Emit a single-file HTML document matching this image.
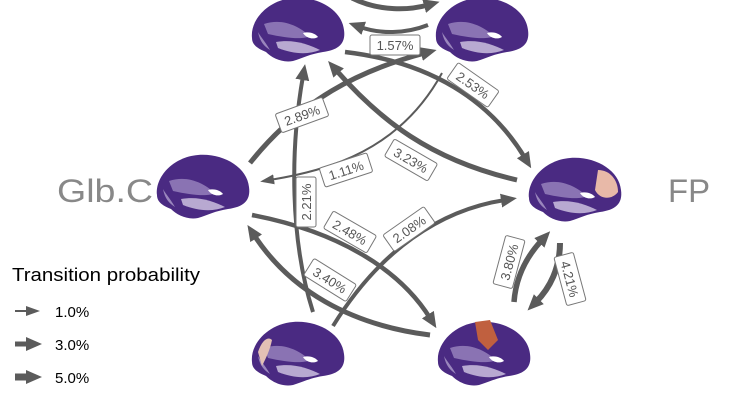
<!DOCTYPE html>
<html><head><meta charset="utf-8"><style>
html,body{margin:0;padding:0;background:#fff;width:746px;height:419px;overflow:hidden}
svg{display:block}
text{font-family:"Liberation Sans",sans-serif}
</style></head><body>
<svg width="746" height="419" viewBox="0 0 746 419" xmlns="http://www.w3.org/2000/svg">
<defs>
<marker id="ah" markerUnits="userSpaceOnUse" markerWidth="16" markerHeight="16" refX="4" refY="8" orient="auto" viewBox="0 0 16 16">
<path d="M0,1 L16,8 L0,15 Z" fill="#5b5b5b"/></marker>
<marker id="ahs" markerUnits="userSpaceOnUse" markerWidth="14" markerHeight="14" refX="4" refY="7" orient="auto" viewBox="0 0 14 14">
<path d="M0,2 L14,7 L0,12 Z" fill="#5b5b5b"/></marker>
<g id="brain">
<path d="M-46,10 C-48,-8 -30,-28 -5,-30 C20,-32 44,-18 46,2 C48,16 40,22 25,24 C12,26 5,30 -5,33 C-16,35 -26,30 -32,24 C-42,20 -46,16 -46,10 Z" fill="#4a2a82"/>
<path d="M-34,-4 C-15,-10 0,-2 12,8 C5,12 -12,10 -30,6 Z" fill="#8a73b3"/>
<path d="M-22,14 C-5,11 10,16 22,22 C10,27 -5,26 -20,20 Z" fill="#b8a9d1"/>
<path d="M-40,4 C-38,14 -34,18 -28,22 C-34,12 -38,8 -40,4 Z" fill="#9a86bd"/>
<path d="M5,5 C12,3 18,6 20,9 C15,12 8,10 5,5 Z" fill="#fff"/>
</g>
</defs>
<g fill="none" stroke="#5b5b5b" stroke-linecap="butt">
<path d="M352,-2 C380,12 410,10 428,5" stroke-width="5" marker-end="url(#ah)"/>
<path d="M428,25 C405,34 380,34 360,27" stroke-width="4" marker-end="url(#ah)"/>
<path d="M345,52 C430,62 490,100 525,158" stroke-width="4.5" marker-end="url(#ah)"/>
<path d="M250,163 C300,100 360,70 425,53" stroke-width="5" marker-end="url(#ah)"/>
<path d="M442,73 C400,150 330,170 270,180" stroke-width="2" marker-end="url(#ahs)"/>
<path d="M517,180 C430,160 380,120 336,70" stroke-width="5" marker-end="url(#ah)"/>
<path d="M313,312 C290,240 290,150 303,76" stroke-width="4" marker-end="url(#ah)"/>
<path d="M252,215 C340,232 400,270 430,318" stroke-width="4.5" marker-end="url(#ah)"/>
<path d="M333,326 C380,250 440,210 505,200" stroke-width="4" marker-end="url(#ah)"/>
<path d="M430,335 C350,325 290,290 254,235" stroke-width="5" marker-end="url(#ah)"/>
<path d="M514,302 C516,275 528,255 542,240" stroke-width="5.5" marker-end="url(#ah)"/>
<path d="M560,243 C560,268 550,288 536,302" stroke-width="6" marker-end="url(#ah)"/>
<path d="M15,311 L30,311" stroke-width="2" marker-end="url(#ahs)"/>
<path d="M15,344 L30,344" stroke-width="5" marker-end="url(#ah)"/>
<path d="M15,377 L30,377" stroke-width="7" marker-end="url(#ah)"/>
</g>
<use href="#brain" x="298" y="28"/>
<use href="#brain" x="482" y="28"/>
<use href="#brain" x="203" y="185"/>
<use href="#brain" x="575" y="188"/>
<use href="#brain" x="298" y="352"/>
<use href="#brain" x="484" y="352"/>
<path d="M475,322 L490,320 L498,340 L488,350 L478,340 Z" fill="#c0603f"/>
<path d="M598,170 C610,170 618,180 618,192 C612,200 600,200 595,190 Z" fill="#e8b9a8"/>
<path d="M258,352 C262,340 268,336 272,340 C270,350 266,358 262,366 Z" fill="#e3c0b5"/>
<g font-size="13" fill="#555" text-anchor="middle">
<g transform="translate(395,45)"><rect x="-25" y="-10" width="50" height="20" rx="2" fill="#fff" stroke="#777"/><text y="5">1.57%</text></g>
<g transform="translate(473,85) rotate(35)"><rect x="-25" y="-10" width="50" height="20" rx="2" fill="#fff" stroke="#777"/><text y="5">2.53%</text></g>
<g transform="translate(302,115) rotate(-20)"><rect x="-25" y="-10" width="50" height="20" rx="2" fill="#fff" stroke="#777"/><text y="5">2.89%</text></g>
<g transform="translate(346,170) rotate(-18)"><rect x="-25" y="-10" width="50" height="20" rx="2" fill="#fff" stroke="#777"/><text y="5">1.11%</text></g>
<g transform="translate(411,160) rotate(30)"><rect x="-25" y="-10" width="50" height="20" rx="2" fill="#fff" stroke="#777"/><text y="5">3.23%</text></g>
<g transform="translate(306,202) rotate(-90)"><rect x="-25" y="-10" width="50" height="20" rx="2" fill="#fff" stroke="#777"/><text y="5">2.21%</text></g>
<g transform="translate(350,232) rotate(30)"><rect x="-25" y="-10" width="50" height="20" rx="2" fill="#fff" stroke="#777"/><text y="5">2.48%</text></g>
<g transform="translate(409,229) rotate(-35)"><rect x="-25" y="-10" width="50" height="20" rx="2" fill="#fff" stroke="#777"/><text y="5">2.08%</text></g>
<g transform="translate(330,280) rotate(32)"><rect x="-25" y="-10" width="50" height="20" rx="2" fill="#fff" stroke="#777"/><text y="5">3.40%</text></g>
<g transform="translate(509,262) rotate(-75)"><rect x="-25" y="-10" width="50" height="20" rx="2" fill="#fff" stroke="#777"/><text y="5">3.80%</text></g>
<g transform="translate(570,279) rotate(75)"><rect x="-25" y="-10" width="50" height="20" rx="2" fill="#fff" stroke="#777"/><text y="5">4.21%</text></g>
</g>
<text x="57" y="202" font-size="32" fill="#888" textLength="96" lengthAdjust="spacingAndGlyphs">Glb.C</text>
<text x="668" y="202" font-size="32" fill="#888" textLength="42" lengthAdjust="spacingAndGlyphs">FP</text>
<text x="12" y="281" font-size="18" fill="#000" textLength="188" lengthAdjust="spacingAndGlyphs">Transition probability</text>
<text x="55" y="317" font-size="15" fill="#000">1.0%</text>
<text x="55" y="350" font-size="15" fill="#000">3.0%</text>
<text x="55" y="383" font-size="15" fill="#000">5.0%</text>
</svg>
</body></html>
